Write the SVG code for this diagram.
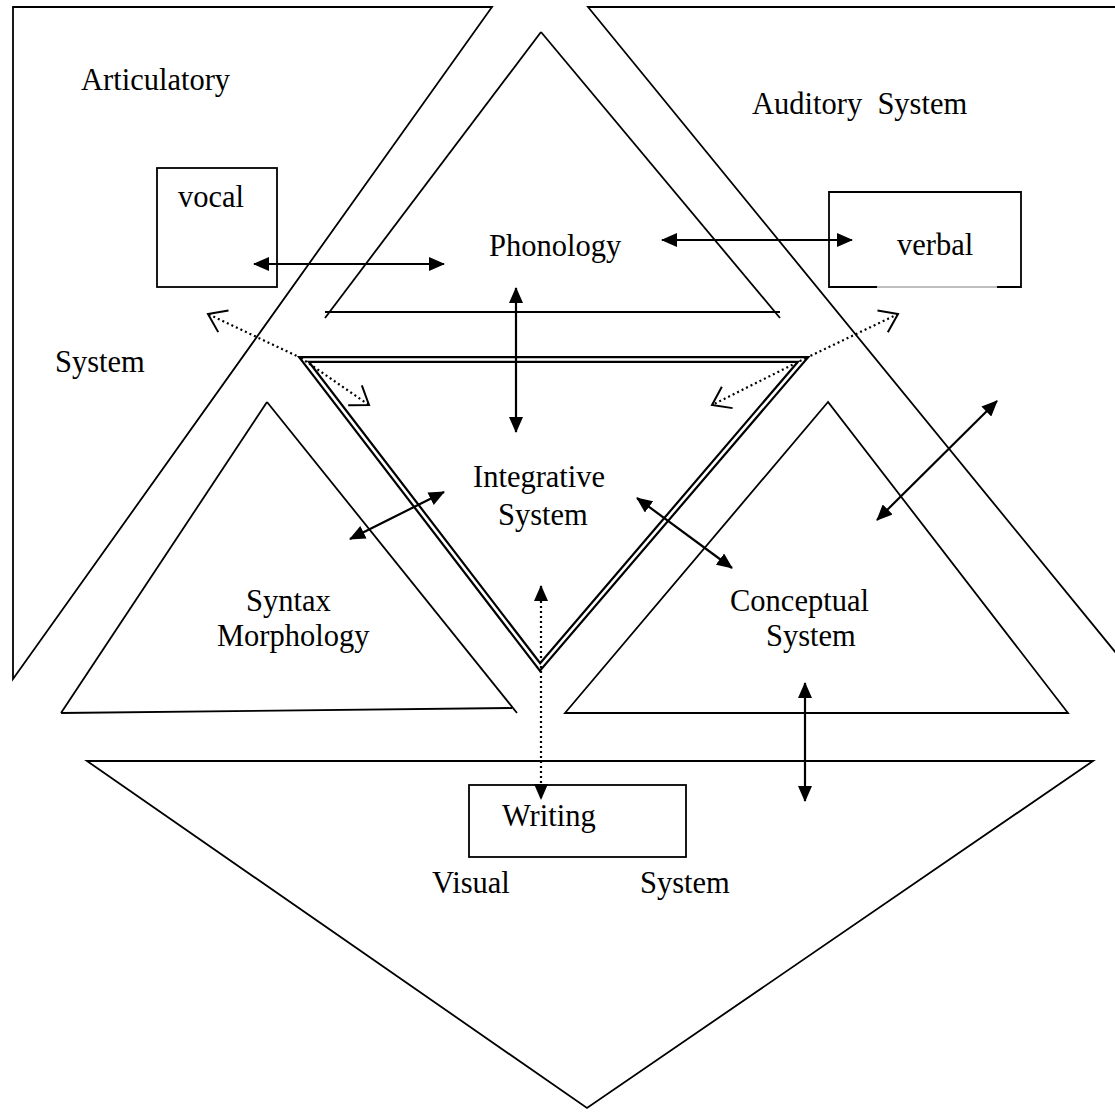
<svg xmlns="http://www.w3.org/2000/svg" width="1115" height="1118" viewBox="0 0 1115 1118">
<style>
.ln{fill:none;stroke:#000;stroke-width:1.8;stroke-linejoin:miter}
.ar{fill:none;stroke:#000;stroke-width:2.2}
.dt{fill:none;stroke:#000;stroke-width:2.2;stroke-dasharray:2 3}
.t{font-family:"Liberation Serif","Times New Roman",serif;font-size:30.5px;fill:#000}
</style>
<defs>
<marker id="fa" markerUnits="userSpaceOnUse" markerWidth="16" markerHeight="14" viewBox="0 0 16 14" refX="15" refY="7" orient="auto-start-reverse">
<path d="M0,0 L16,7 L0,14 Z" fill="#000" stroke="none"/>
</marker>
<marker id="va" markerUnits="userSpaceOnUse" markerWidth="24" markerHeight="30" viewBox="-21 -15 24 30" refX="0" refY="0" orient="auto" overflow="visible">
<path d="M-17,-12 L0,0 L-17,12" fill="none" stroke="#000" stroke-width="2" stroke-dasharray="none"/>
</marker>
</defs>
<rect width="1115" height="1118" fill="#fff"/>
<g id="articulatory-system">
<polygon class="ln" points="13,7 492,7 13,679"/>
<text class="t" x="81" y="90">Articulatory</text>
<text class="t" x="55" y="372">System</text>
</g>
<g id="auditory-system">
<polyline class="ln" points="1125,7 588,7 1125,664"/>
<text class="t" x="752" y="114" xml:space="preserve">Auditory  System</text>
</g>
<g id="phonology">
<line class="ln" x1="541" y1="32" x2="325" y2="318"/>
<line class="ln" x1="541" y1="32" x2="780" y2="318"/>
<line class="ln" x1="325" y1="312" x2="780" y2="312"/>
<text class="t" x="489" y="256">Phonology</text>
</g>
<g id="vocal">
<rect class="ln" x="157" y="168" width="120" height="119"/>
<text class="t" x="178" y="207">vocal</text>
</g>
<g id="verbal">
<polyline class="ln" points="877,287 829,287 829,192 1021,192 1021,287 997,287"/>
<line x1="877" y1="287" x2="997" y2="287" stroke="#000" stroke-width="1" opacity="0.5"/>
<text class="t" x="897" y="255">verbal</text>
</g>
<g id="integrative-system">
<polygon points="304,359.5 803,359.5 540,667" fill="none" stroke="#000" stroke-width="7"/>
<polygon points="304,359.5 803,359.5 540,667" fill="none" stroke="#fff" stroke-width="2.6"/>
<text class="t" x="473" y="487">Integrative</text>
<text class="t" x="498" y="525">System</text>
</g>
<g id="syntax-morphology">
<line class="ln" x1="267" y1="402" x2="61" y2="713"/>
<line class="ln" x1="267" y1="402" x2="517" y2="713"/>
<line class="ln" x1="61" y1="713" x2="512" y2="708"/>
<text class="t" x="246" y="611">Syntax</text>
<text class="t" x="217" y="646">Morphology</text>
</g>
<g id="conceptual-system">
<polygon class="ln" points="828,402 565,713 1068,713"/>
<text class="t" x="730" y="611">Conceptual</text>
<text class="t" x="766" y="646">System</text>
</g>
<g id="visual-system">
<polygon class="ln" points="87,761 1093,761 587,1108"/>
<text class="t" x="432" y="893">Visual</text>
<text class="t" x="640" y="893">System</text>
</g>
<g id="writing">
<rect class="ln" x="469" y="785" width="217" height="72"/>
<text class="t" x="502" y="826">Writing</text>
</g>
<g id="connectors">
<line class="ar" x1="254" y1="264" x2="444" y2="264" marker-start="url(#fa)" marker-end="url(#fa)"/>
<line class="ar" x1="662" y1="240" x2="852" y2="240" marker-start="url(#fa)" marker-end="url(#fa)"/>
<line class="ar" x1="516" y1="288" x2="516" y2="432" marker-start="url(#fa)" marker-end="url(#fa)"/>
<line class="ar" x1="350" y1="539" x2="444" y2="492" marker-start="url(#fa)" marker-end="url(#fa)"/>
<line class="ar" x1="637" y1="498" x2="732" y2="568" marker-start="url(#fa)" marker-end="url(#fa)"/>
<line class="ar" x1="877" y1="520" x2="997" y2="401" marker-start="url(#fa)" marker-end="url(#fa)"/>
<line class="ar" x1="805" y1="683" x2="805" y2="801" marker-start="url(#fa)" marker-end="url(#fa)"/>
<line class="dt" x1="541" y1="586" x2="541" y2="799" marker-start="url(#fa)" marker-end="url(#fa)"/>
<line class="dt" x1="301" y1="358" x2="208" y2="314" marker-end="url(#va)"/>
<line class="dt" x1="301" y1="358" x2="369" y2="405" marker-end="url(#va)"/>
<line class="dt" x1="806" y1="358" x2="898" y2="314" marker-end="url(#va)"/>
<line class="dt" x1="806" y1="358" x2="712" y2="405" marker-end="url(#va)"/>
</g>
</svg>
